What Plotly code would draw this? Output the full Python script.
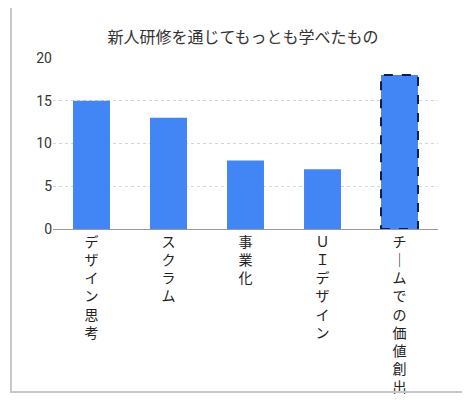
import plotly.graph_objects as go

categories = ["デザイン思考", "スクラム", "事業化", "ＵＩデザイン", "チームでの価値創出"]
values = [15, 13, 8, 7, 18]
highlight_index = 4

def vert(s):
    return "<br>".join("｜" if c == "ー" else c for c in s)

labels = [vert(c) for c in categories]
fig = go.Figure(go.Bar(x=labels, y=values, marker_color="#4285f4",
                       marker_line_width=0))
W, H = 470, 400
ml, mr, mt, mb = 45, 40, 50, 177
pw, ph = W - ml - mr, H - mt - mb
bargap = 0.52
hx = labels[highlight_index]
fig.update_layout(
    width=W, height=H, margin=dict(l=ml, r=mr, t=mt, b=mb),
    paper_bgcolor="white", plot_bgcolor="white",
    font=dict(family="Noto Sans CJK JP", size=14, color="#222"),
    title=dict(text="新人研修を通じてもっとも学べたもの", x=0.5, y=0.94, xanchor="center",
               font=dict(size=16, color="#333")),
    bargap=bargap, showlegend=False,
    yaxis=dict(range=[0, 20], dtick=5, showgrid=True, gridcolor="#d5d5d5", griddash="dot",
               zeroline=False, tickfont=dict(size=14, color="#333", family="Roboto"), ticklen=0),
    xaxis=dict(showline=True, linecolor="#999", tickfont=dict(size=14, color="#222"), ticks=""),
    shapes=[
        dict(type="rect", xref="paper", yref="paper",
             x0=(3 - ml) / pw, x1=(W - 12 - ml) / pw,
             y0=-(H - 12 - mt - ph) / ph, y1=(H - 3 - mt) / ph,
             line=dict(color="#c8c8c8", width=2)),
        dict(type="rect", xref="x", yref="y",
             x0=highlight_index - (1 - bargap) / 2, x1=highlight_index + (1 - bargap) / 2,
             y0=0, y1=values[highlight_index],
             line=dict(color="#0b1f4d", width=2, dash="dash")),
    ],
)
fig.write_html("out.html")
